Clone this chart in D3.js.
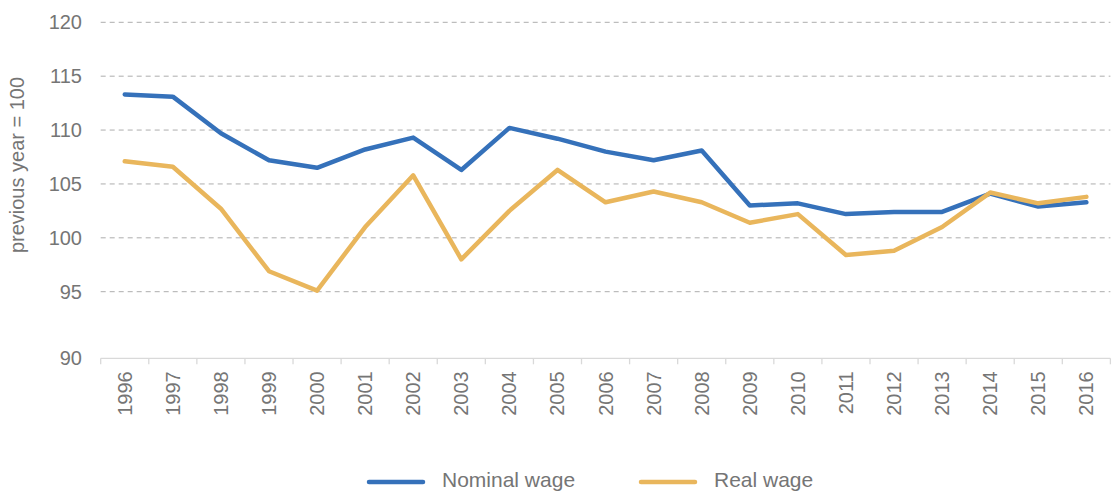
<!DOCTYPE html>
<html><head><meta charset="utf-8">
<script src="https://cdn.jsdelivr.net/npm/d3@7"></script>
<style>body{margin:0;background:#fff}svg{display:block}text{font-family:"Liberation Sans",Arial,sans-serif}</style>
</head><body><svg id="c" width="1112" height="491"></svg>
<script>
const years = ["1996","1997","1998","1999","2000","2001","2002","2003","2004","2005","2006","2007","2008","2009","2010","2011","2012","2013","2014","2015","2016"];
const nominalWage = [113.3,113.1,109.7,107.2,106.5,108.2,109.3,106.3,110.2,109.2,108.0,107.2,108.1,103.0,103.2,102.2,102.4,102.4,104.1,102.9,103.3];
const realWage = [107.1,106.6,102.7,96.9,95.1,101.0,105.8,98.0,102.5,106.3,103.3,104.3,103.3,101.4,102.2,98.4,98.8,101.0,104.2,103.2,103.8];
const yTicks = [90,95,100,105,110,115,120];
const seriesNames = ["Nominal wage","Real wage"];
const colors = ["#3571BA","#E9B65C"];
const textColor = "#757575";

const svg = d3.select("#c");
const x = d3.scaleBand().domain(years).range([100.7,1110.4]);
const y = d3.scaleLinear().domain([90,95,120]).range([358.3,291.7,22.3]);

// gridlines
svg.append("g").selectAll("line").data(yTicks.filter(d=>d>90)).join("line")
  .attr("x1",100.7).attr("x2",1110.4)
  .attr("y1",d=>y(d)).attr("y2",d=>y(d))
  .attr("stroke","#ADADAD").attr("stroke-width",1).attr("stroke-dasharray","5,4");

// y labels
svg.append("g").selectAll("text").data(yTicks).join("text")
  .attr("x",82).attr("y",d=>y(d)).attr("dy","0.35em")
  .attr("text-anchor","end").attr("font-size",20).attr("fill",textColor)
  .text(d=>d);

// y title
svg.append("text").attr("transform","translate(24,165) rotate(-90)")
  .attr("text-anchor","middle").attr("font-size",20).attr("fill",textColor)
  .text("previous year = 100");

// x axis
const xa = svg.append("g").attr("transform",`translate(0,${y(90)})`);
xa.append("line").attr("x1",100.7).attr("x2",1110.4).attr("stroke","#D9D9D9").attr("stroke-width",1.3);
const bounds = years.map(d=>x(d)).concat([x(years[years.length-1])+x.bandwidth()]);
xa.selectAll("line.t").data(bounds).join("line").attr("class","t")
  .attr("x1",d=>d).attr("x2",d=>d).attr("y1",0).attr("y2",6)
  .attr("stroke","#D9D9D9").attr("stroke-width",1.3);
xa.selectAll("text").data(years).join("text")
  .attr("transform",d=>`translate(${x(d)+x.bandwidth()/2+7},13) rotate(-90)`)
  .attr("text-anchor","end").attr("font-size",20).attr("fill",textColor)
  .text(d=>d);

// lines
const line = d3.line().x((d,i)=>x(years[i])+x.bandwidth()/2).y(d=>y(d));
[nominalWage,realWage].forEach((s,k)=>{
  svg.append("path").datum(s).attr("d",line).attr("fill","none")
    .attr("stroke",colors[k]).attr("stroke-width",4.5)
    .attr("stroke-linejoin","round").attr("stroke-linecap","round");
});

// legend
const lx = [369,641];
seriesNames.forEach((n,k)=>{
  svg.append("line").attr("x1",lx[k]).attr("x2",lx[k]+54).attr("y1",482).attr("y2",482)
    .attr("stroke",colors[k]).attr("stroke-width",4.5).attr("stroke-linecap","round");
  svg.append("text").attr("x",lx[k]+73).attr("y",487).attr("font-size",21).attr("fill",textColor).text(n);
});
</script></body></html>
